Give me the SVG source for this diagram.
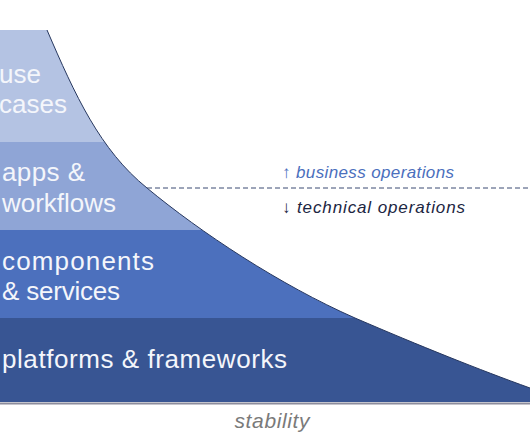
<svg xmlns="http://www.w3.org/2000/svg" width="530" height="442" viewBox="0 0 530 442">
<style>
.lbl{font-family:"Liberation Sans",Arial,sans-serif;font-size:26px;fill:#f4f6fb}
.ops{font-family:"Liberation Sans",Arial,sans-serif;font-size:17px;font-style:italic}
</style>
<defs>
<clipPath id="shape"><path d="M0,30 L47,30 C75,95 100,150 147,188 C200,232 280,285 355,318 C420,346 480,370 530,388 L530,402 L0,402 Z"/></clipPath>
</defs>
<rect width="530" height="442" fill="#ffffff"/>
<g clip-path="url(#shape)">
<g id="use-cases"><rect x="0" y="30" width="530" height="112" fill="#b4c3e3"/></g>
<g id="apps-workflows"><rect x="0" y="142" width="530" height="88" fill="#8fa5d6"/></g>
<g id="components-services"><rect x="0" y="230" width="530" height="88" fill="#4c70bd"/></g>
<g id="platforms-frameworks"><rect x="0" y="318" width="530" height="85" fill="#385593"/></g>
</g>
<g id="connectors">
<path d="M47,30 C75,95 100,150 147,188 C200,232 280,285 355,318 C420,346 480,370 530,388" fill="none" stroke="#26375f" stroke-width="1"/>
<line x1="147" y1="188" x2="530" y2="188" stroke="#3b4a72" stroke-width="1" stroke-dasharray="5,3"/>
<line x1="0" y1="403.5" x2="530" y2="403.5" stroke="#8c8c9c" stroke-width="2"/>
</g>
<g id="labels">
<text class="lbl" x="-1" y="83">use</text>
<text class="lbl" x="-1" y="113">cases</text>
<text class="lbl" x="2" y="181" textLength="83">apps &amp;</text>
<text class="lbl" x="2" y="212" textLength="114">workflows</text>
<text class="lbl" x="2" y="270" textLength="152">components</text>
<text class="lbl" x="2" y="300" textLength="118">&amp; services</text>
<text class="lbl" x="2" y="368" textLength="285">platforms &amp; frameworks</text>
<text class="ops" x="282" y="178" fill="#4b6fbd" textLength="172">↑ business operations</text>
<text class="ops" x="282" y="213" fill="#1c2642" textLength="183">↓ technical operations</text>
<text x="272" y="428" text-anchor="middle" font-family="Liberation Sans,Arial,sans-serif" font-size="21" font-style="italic" fill="#7a7a7a" textLength="75">stability</text>
</g>
</svg>
